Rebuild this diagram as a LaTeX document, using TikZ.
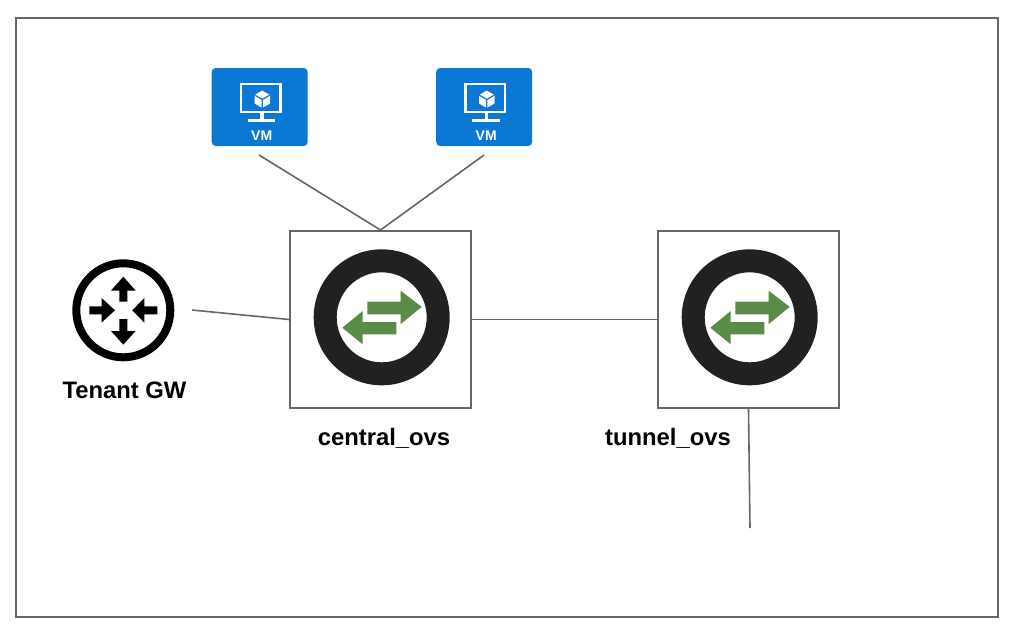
\documentclass[tikz,border=0pt]{standalone}
\usepackage{fontspec}
\setmainfont{Liberation Sans}
\definecolor{linegray}{HTML}{666666}
\definecolor{ringdark}{HTML}{212121}
\definecolor{swgreen}{HTML}{5B8C47}
\definecolor{vmblue}{HTML}{0A78D4}
\tikzset{
  wire/.style={draw=linegray,line width=1.2pt},
  boxnode/.style={draw=linegray,line width=1.5pt,fill=white,minimum width=135.75pt,minimum height=132.75pt,inner sep=0pt},
  vmnode/.style={fill=vmblue,rounded corners=3pt,minimum width=72pt,minimum height=58.5pt,inner sep=0pt},
  vmline/.style={draw=white,line width=1.9pt},
  caption/.style={font=\bfseries\fontsize{17.85pt}{20pt}\selectfont,text=black,inner sep=0pt},
  vmtext/.style={font=\bfseries\fontsize{10.5pt}{12pt}\selectfont,text=white,inner sep=0pt}
}
\newcommand{\switchicon}[2]{%
  \begin{scope}[shift={(#1,#2)}]
    \fill[ringdark,even odd rule] (0,0) circle[radius=68] (0,0) circle[radius=45];
    \fill[swgreen] (-14.4,-15.6) -- (19,-15.6) -- (19,-26.6) -- (40,-10.4) -- (19,6.7) -- (19,-3) -- (-14.4,-3) -- cycle;
    \fill[swgreen] (14.6,4.7) -- (-19,4.7) -- (-19,-6.3) -- (-39.4,10.4) -- (-19,27) -- (-19,17) -- (14.6,17) -- cycle;
  \end{scope}}
\newcommand{\vmicon}[2]{%
  \begin{scope}[shift={(#1,#2)}]
    \draw[vmline] (241,84) rectangle (280.7,112);
    \fill[white] (260,112) rectangle (263.6,119.5);
    \fill[white] (247.5,119.3) rectangle (275,121.8);
    \fill[white] (262.3,90.6) -- (270,95) -- (270,103.5) -- (262.3,108) -- (254.6,103.5) -- (254.6,95) -- cycle;
    \draw[vmblue,line width=0.9pt] (254.6,95) -- (262.3,99.5) -- (270,95) (262.3,99.5) -- (262.3,108);
  \end{scope}}
\begin{document}
\begin{tikzpicture}[x=0.75pt,y=-0.75pt]
  \useasboundingbox (0,0) rectangle (1020,637);
  \fill[white] (0,0) rectangle (1020,637);
  \node[draw=linegray,line width=1.5pt,minimum width=736.5pt,minimum height=449.25pt,inner sep=0pt] (frame) at (507,317.5) {};

  \node[boxnode] (central) at (380.5,319.5) {};
  \node[boxnode] (tunnel) at (748.5,319.5) {};
  \node[vmnode] (vma) at (259.7,107) {};
  \node[vmnode] (vmb) at (484.2,107) {};
  \node[vmtext] (vmatext) at (261.7,135.5) {VM};
  \node[vmtext] (vmbtext) at (486.2,135.5) {VM};
  \vmicon{0}{0}
  \vmicon{224.5}{0}

  \switchicon{381.7}{317.3}
  \switchicon{749.7}{317.3}

  \node[circle,draw=black,line width=6pt,minimum size=70.5pt,inner sep=0pt] (gw) at (123.3,310.3) {};
  \begin{scope}[shift={(123.3,310.3)}]
    \fill[black] (-4,-8.7) -- (-4,-19.7) -- (-12.3,-19.7) -- (0,-33.7) -- (12.3,-19.7) -- (4,-19.7) -- (4,-8.7) -- cycle;
    \fill[black] (-4,8.7) -- (-4,20.7) -- (-12.3,20.7) -- (0,34.3) -- (12.3,20.7) -- (4,20.7) -- (4,8.7) -- cycle;
    \fill[black] (-34,-4) -- (-21.7,-4) -- (-21.7,-12.3) -- (-8.3,0) -- (-21.7,12.3) -- (-21.7,4) -- (-34,4) -- cycle;
    \fill[black] (34,-4) -- (21,-4) -- (21,-12.3) -- (9,0) -- (21,12.3) -- (21,4) -- (34,4) -- cycle;
  \end{scope}

  \node[caption] (gwlabel) at (124.5,390) {Tenant GW};
  \node[caption] (centrallabel) at (384,438.5) {central\_ovs};
  \node[caption] (tunnellabel) at (668,438.5) {tunnel\_ovs};

  \coordinate (vmaport) at (259,155);
  \coordinate (vmbport) at (484,155);
  \coordinate (gwport) at (192,310);
  \coordinate (tunnelend) at (750,528);
  \draw[wire] (vmaport) -- (central.north);
  \draw[wire] (vmbport) -- (central.north);
  \draw[wire] (gwport) -- (central.west);
  \draw[wire] (central.east) -- (tunnel.west);
  \draw[wire] (tunnel.south) -- (tunnelend);
\end{tikzpicture}
\end{document}
